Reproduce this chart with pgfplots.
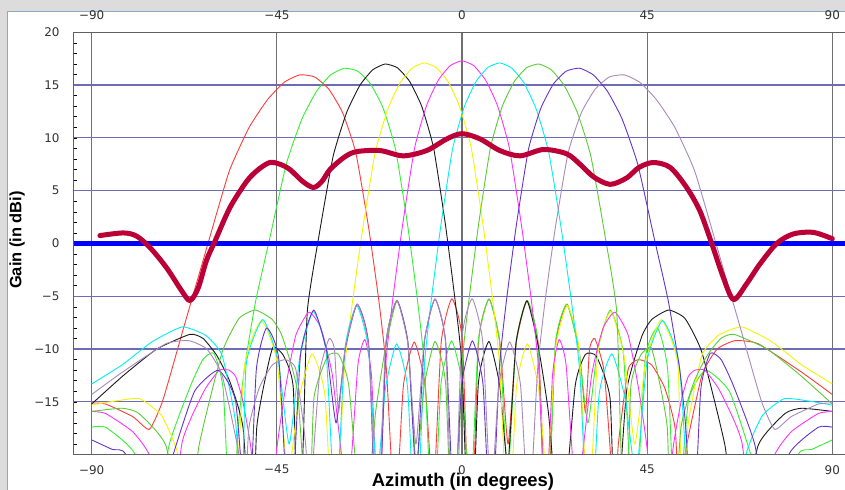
\documentclass[border=0pt]{standalone}
\usepackage{pgfplots}
\pgfplotsset{compat=1.18}
\usepackage{fontspec}
\setmainfont{DejaVu Sans}
\newfontfamily\labelfont{Liberation Sans}
\definecolor{cRed}{HTML}{FF3B3B}
\definecolor{cLime}{HTML}{33F033}
\definecolor{cBlack}{HTML}{1A1A1A}
\definecolor{cYellow}{HTML}{F5F500}
\definecolor{cMag}{HTML}{FF33FF}
\definecolor{cCyan}{HTML}{00F0F0}
\definecolor{cGreen}{HTML}{5CCC33}
\definecolor{cViolet}{HTML}{6633CC}
\definecolor{cMauve}{HTML}{AA88BB}
\definecolor{cCrimson}{HTML}{BB0038}
\definecolor{cBlue}{HTML}{0000FF}
\definecolor{gridx}{HTML}{707070}
\definecolor{gridy}{HTML}{6C6CB4}
\definecolor{winGray}{HTML}{DCDCDC}
\definecolor{frameCol}{HTML}{8FA8C0}
\definecolor{axisCol}{HTML}{606060}
\pgfplotsset{beam/.style={line width=0.9bp, line join=round, smooth, tension=0.3}}
\begin{document}
\begin{tikzpicture}[x=1bp,y=1bp]
\useasboundingbox (0,0) rectangle (845,490);
\fill[winGray] (0,0) rectangle (845,490);
\fill[white] (7.5,0) rectangle (845,478.5);
\draw[frameCol, line width=1bp] (7.5,0) -- (7.5,478.5) -- (845,478.5);
\begin{axis}[
  at={(73.3bp,35.3bp)}, anchor=south west,
  scale only axis, width=771.7bp, height=422.4bp,
  xmin=-94.47, xmax=93.09, ymin=-20, ymax=20,
  axis line style={draw=none},
  xtick={-90,-45,0,45,90},
  xticklabels={−90,−45,0,45,90},
  ytick={-15,-10,-5,0,5,10,15,20},
  yticklabels={−15,−10,−5,0,5,10,15,20},
  minor ytick={-19,...,19},
  xtick style={draw=none},
  ytick pos=left,
  ytick style={black, line width=0.6bp},
  major tick length=3.5bp, minor tick length=3.5bp,
  tick label style={font=\fontsize{12}{14}\selectfont, text=black!80},
  xticklabel style={yshift=-7bp},
  yticklabel style={xshift=-10.3bp},
  clip=true,
]
\pgfplotsinvokeforeach{-90,-45,0,45,90}{\draw[gridx, line width=1.2bp] (axis cs:#1,-20) -- (axis cs:#1,20);}
\pgfplotsinvokeforeach{-15,-10,-5,5,10,15}{\draw[gridy, line width=1.2bp] (axis cs:-94.47,#1) -- (axis cs:93.09,#1);}

% beam 1 red
\addplot[cRed, beam] coordinates {
(-90,-15.1)(-86.6,-15.2)(-80,-16.4)(-76,-17.6)(-72.75,-14.9)(-67.67,-8.0)(-62.25,-0.7)(-56.61,6.8)(-51.72,11.0)(-47.31,13.6)(-43.23,15.26)(-39.42,15.97)(-35.8,15.77)(-32.34,14.6)(-29.01,12.38)(-25.78,8.55)(-22.64,1.38)(-20.18,-5.5)(-18.36,-12.0)(-16.26,-26)(-14.24,-13.47)(-11.6,-9.32)(-8.97,-13.38)(-7.0,-24)(-5.05,-9.34)(-2.46,-5.23)(0.11,-9.32)(2.06,-30)(4.01,-9.34)(6.6,-5.25)(9.21,-9.38)(11.19,-19)(13.18,-9.44)(15.84,-5.4)(18.54,-9.58)(20.61,-27)(22.7,-9.73)(25.53,-5.74)(28.42,-9.99)(30.0,-16)(31.0,-10)(32.3,-9.0)(34.5,-12)(36,-19.4)(37,-26)(38,-19)(40.4,-11.9)(42.9,-11.0)(46.1,-11.5)(49.3,-13.7)(51.8,-17.5)(53,-26)(54.2,-20)(58.3,-12.5)(62,-10)(66.4,-9.2)(72,-9.5)(82.6,-12.2)(90,-14.3)
};
% beam 2 lime
\addplot[cLime, beam] coordinates {
(-90,-17.4)(-86.6,-17.4)(-79.4,-20)(-75,-28)(-71.2,-19.1)(-66,-13.5)(-63,-11)(-60.3,-10.4)(-58,-14)(-56,-30)(-54.5,-18)(-52.94,-12)(-50.17,-5.5)(-46.72,0.5)(-42.69,7.54)(-38.9,11.8)(-35.31,14.44)(-31.87,15.98)(-28.55,16.6)(-25.34,16.32)(-22.21,15.1)(-19.15,12.8)(-16.14,8.89)(-13.18,1.65)(-10.84,-5.3)(-9.09,-11.8)(-7.07,-28)(-5.11,-13.34)(-2.52,-9.22)(0.06,-13.32)(2.0,-25)(3.96,-9.34)(6.55,-5.25)(9.15,-9.38)(11.13,-22)(13.12,-9.44)(15.78,-5.4)(18.48,-9.57)(20.55,-30)(22.64,-9.72)(25.47,-5.74)(28.36,-9.99)(30.6,-17)(32.89,-10.22)(36.02,-6.3)(39.27,-10.62)(41.83,-28)(44.51,-11.0)(47.5,-8.0)(50,-12)(52,-28)(55,-15)(59.2,-12)(65,-14)(70.2,-20)(76,-28)(81.7,-20)(85,-19.5)(90,-18.6)
};
% beam 3 black
\addplot[cBlack, beam] coordinates {
(-90,-15.2)(-82.3,-12.5)(-74.2,-10.0)(-66.1,-8.6)(-62.9,-9.0)(-59.6,-10.6)(-56.4,-13.1)(-53.2,-17.5)(-51.0,-30)(-49.9,-17.5)(-47.5,-12.2)(-45.9,-9.8)(-43.4,-10.6)(-41.0,-13.7)(-39.8,-30)(-38.6,-19)(-37.59,-6.4)(-34.75,0.76)(-31.33,8.24)(-28.04,12.4)(-24.83,14.97)(-21.72,16.44)(-18.66,17.0)(-15.66,16.63)(-12.71,15.34)(-9.79,12.99)(-6.89,9.03)(-4.01,1.74)(-1.72,-5.25)(0,-11.74)(2.0,-32)(3.96,-13.36)(6.55,-9.27)(9.15,-13.4)(11.13,-21)(13.12,-9.46)(15.78,-5.42)(18.48,-9.6)(21,-16)(24,-28)(27.5,-13.5)(30,-10.5)(32.7,-10.7)(36,-14.7)(37.3,-28)(40,-14)(43.7,-8.8)(46.1,-7.2)(50.2,-6.3)(54.2,-7.1)(58.3,-10.3)(63.9,-19.1)(67,-28)(72,-19.1)(78.5,-16.1)(82.6,-15.6)(90,-15.9)
};
% beam 4 yellow
\addplot[cYellow, beam] coordinates {
(-90,-15.3)(-84,-14.9)(-78.3,-14.7)(-73,-16.3)(-69,-20)(-64,-30)(-60,-22)(-56.2,-30)(-52.84,-11.6)(-48.76,-7.3)(-44.99,-11.1)(-42.3,-22)(-39.72,-14.8)(-36.45,-10.45)(-33.3,-14.4)(-31.0,-30)(-28.69,-12.5)(-26.74,-5.9)(-24.2,1.2)(-21.1,8.6)(-18.06,12.7)(-15.07,15.2)(-12.12,16.6)(-9.21,17.1)(-6.32,16.68)(-3.44,15.35)(-0.57,12.96)(2.29,8.95)(5.16,1.64)(7.47,-5.38)(9.21,-11.9)(11.25,-28)(13.24,-13.6)(15.9,-9.5)(18.6,-13.7)(20.67,-22)(22.77,-9.85)(25.6,-5.87)(28.49,-10.1)(30.73,-26)(33.02,-10.35)(36.16,-6.43)(39.42,-10.75)(42.0,-19)(44.67,-11.1)(48.42,-7.2)(52.47,-11.5)(53.5,-26)(55,-17)(58.3,-10.6)(62.3,-8.7)(68,-7.9)(75.3,-9.3)(82.6,-11.5)(90,-13.3)
};
% beam 5 magenta
\addplot[cMag, beam] coordinates {
(-90,-15.9)(-86.6,-16.1)(-80.1,-17.8)(-76,-20)(-71,-26)(-68,-18.8)(-65.6,-16.3)(-62.3,-13.7)(-59,-12.0)(-56.6,-12.0)(-55,-12.6)(-53.4,-14.7)(-51.4,-19.1)(-48,-30)(-44.9,-19.1)(-42.9,-13.7)(-40.4,-8.7)(-37.2,-6.5)(-34.3,-8.0)(-31.5,-12.5)(-27.8,-24)(-25.3,-11.5)(-23.6,-9.1)(-22.0,-12.5)(-20.3,-26)(-18.66,-12.0)(-16.86,-5.4)(-14.48,1.65)(-11.54,9.0)(-8.63,13.05)(-5.74,15.47)(-2.87,16.84)(0,17.3)(2.87,16.84)(5.74,15.47)(8.63,13.05)(11.54,9.0)(14.48,1.65)(16.86,-5.4)(18.66,-12.0)(20.3,-26)(22.0,-12.5)(23.6,-9.1)(25.3,-11.5)(27.8,-24)(31.5,-12.5)(34.3,-8.0)(37.2,-6.5)(40.4,-8.7)(42.9,-13.7)(44.9,-19.1)(48,-30)(51.4,-19.1)(53.4,-14.7)(55,-12.6)(56.6,-12.0)(59,-12.0)(62.3,-13.7)(65.6,-16.3)(68,-18.8)(71,-26)(76,-20)(80.1,-17.8)(86.6,-16.1)(90,-15.9)
};
% beam 6 cyan
\addplot[cCyan, beam] coordinates {
(90,-15.3)(84,-14.9)(78.3,-14.7)(73,-16.3)(69,-20)(64,-30)(60,-22)(56.2,-30)(52.84,-11.6)(48.76,-7.3)(44.99,-11.1)(42.3,-22)(39.72,-14.8)(36.45,-10.45)(33.3,-14.4)(31.0,-30)(28.69,-12.5)(26.74,-5.9)(24.2,1.2)(21.1,8.6)(18.06,12.7)(15.07,15.2)(12.12,16.6)(9.21,17.1)(6.32,16.68)(3.44,15.35)(0.57,12.96)(-2.29,8.95)(-5.16,1.64)(-7.47,-5.38)(-9.21,-11.9)(-11.25,-28)(-13.24,-13.6)(-15.9,-9.5)(-18.6,-13.7)(-20.67,-22)(-22.77,-9.85)(-25.6,-5.87)(-28.49,-10.1)(-30.73,-26)(-33.02,-10.35)(-36.16,-6.43)(-39.42,-10.75)(-42.0,-19)(-44.67,-11.1)(-48.42,-7.2)(-52.47,-11.5)(-53.5,-26)(-55,-17)(-58.3,-10.6)(-62.3,-8.7)(-68,-7.9)(-75.3,-9.3)(-82.6,-11.5)(-90,-13.3)
};
% beam 7 green
\addplot[cGreen, beam] coordinates {
(90,-15.2)(82.3,-12.5)(74.2,-10.0)(66.1,-8.6)(62.9,-9.0)(59.6,-10.6)(56.4,-13.1)(53.2,-17.5)(51.0,-30)(49.9,-17.5)(47.5,-12.2)(45.9,-9.8)(43.4,-10.6)(41.0,-13.7)(39.8,-30)(38.6,-19)(37.59,-6.4)(34.75,0.76)(31.33,8.24)(28.04,12.4)(24.83,14.97)(21.72,16.44)(18.66,17.0)(15.66,16.63)(12.71,15.34)(9.79,12.99)(6.89,9.03)(4.01,1.74)(1.72,-5.25)(0,-11.74)(-2.0,-32)(-3.96,-13.36)(-6.55,-9.27)(-9.15,-13.4)(-11.13,-21)(-13.12,-9.46)(-15.78,-5.42)(-18.48,-9.6)(-21,-16)(-24,-28)(-27.5,-13.5)(-30,-10.5)(-32.7,-10.7)(-36,-14.7)(-37.3,-28)(-40,-14)(-43.7,-8.8)(-46.1,-7.2)(-50.2,-6.3)(-54.2,-7.1)(-58.3,-10.3)(-63.9,-19.1)(-67,-28)(-72,-19.1)(-78.5,-16.1)(-82.6,-15.6)(-90,-15.9)
};
% beam 8 violet
\addplot[cViolet, beam] coordinates {
(90,-17.4)(86.6,-17.4)(79.4,-20)(75,-28)(71.2,-19.1)(66,-13.5)(63,-11)(60.3,-10.4)(58,-14)(56,-30)(54.5,-18)(52.94,-12)(50.17,-5.5)(46.72,0.5)(42.69,7.54)(38.9,11.8)(35.31,14.44)(31.87,15.98)(28.55,16.6)(25.34,16.32)(22.21,15.1)(19.15,12.8)(16.14,8.89)(13.18,1.65)(10.84,-5.3)(9.09,-11.8)(7.07,-28)(5.11,-13.34)(2.52,-9.22)(-0.06,-13.32)(-2.0,-25)(-3.96,-9.34)(-6.55,-5.25)(-9.15,-9.38)(-11.13,-22)(-13.12,-9.44)(-15.78,-5.4)(-18.48,-9.57)(-20.55,-30)(-22.64,-9.72)(-25.47,-5.74)(-28.36,-9.99)(-30.6,-17)(-32.89,-10.22)(-36.02,-6.3)(-39.27,-10.62)(-41.83,-28)(-44.51,-11.0)(-47.5,-8.0)(-50,-12)(-52,-28)(-55,-15)(-59.2,-12)(-65,-14)(-70.2,-20)(-76,-28)(-81.7,-20)(-85,-19.5)(-90,-18.6)
};
% beam 9 mauve
\addplot[cMauve, beam] coordinates {
(90,-15.1)(86.6,-15.2)(80,-16.4)(76,-17.6)(72.75,-14.9)(67.67,-8.0)(62.25,-0.7)(56.61,6.8)(51.72,11.0)(47.31,13.6)(43.23,15.26)(39.42,15.97)(35.8,15.77)(32.34,14.6)(29.01,12.38)(25.78,8.55)(22.64,1.38)(20.18,-5.5)(18.36,-12.0)(16.26,-26)(14.24,-13.47)(11.6,-9.32)(8.97,-13.38)(7.0,-24)(5.05,-9.34)(2.46,-5.23)(-0.11,-9.32)(-2.06,-30)(-4.01,-9.34)(-6.6,-5.25)(-9.21,-9.38)(-11.19,-19)(-13.18,-9.44)(-15.84,-5.4)(-18.54,-9.58)(-20.61,-27)(-22.7,-9.73)(-25.53,-5.74)(-28.42,-9.99)(-30.0,-16)(-31.0,-10)(-32.3,-9.0)(-34.5,-12)(-36,-19.4)(-37,-26)(-38,-19)(-40.4,-11.9)(-42.9,-11.0)(-46.1,-11.5)(-49.3,-13.7)(-51.8,-17.5)(-53,-26)(-54.2,-20)(-58.3,-12.5)(-62,-10)(-66.4,-9.2)(-72,-9.5)(-82.6,-12.2)(-90,-14.3)
};
% 0 dBi reference
\addplot[cBlue, line width=5bp] coordinates {(-94.47,0) (93.09,0)};
% composite
\addplot[cCrimson, line width=5bp, line cap=round, line join=round, smooth] coordinates {
(-88,0.75)(-82.3,1.0)(-79.1,0.7)(-75.8,-0.4)(-71.8,-2.3)(-68.1,-4.5)(-66.1,-5.4)(-64.1,-4.2)(-62.1,-1.6)(-60,0.25)(-56.4,3.4)(-52.3,5.9)(-49.5,7.0)(-46.7,7.67)(-44.2,7.5)(-41.8,7.0)(-38.8,5.9)(-36.1,5.3)(-34,5.9)(-32.1,7.0)(-28.5,8.2)(-25.6,8.7)(-19.9,8.8)(-14.3,8.3)(-8.6,8.8)(-3.7,9.9)(0,10.4)(4.4,9.9)(9.2,8.8)(14.1,8.3)(19.8,8.9)(25.4,8.5)(28.7,7.5)(32,6.3)(36.0,5.6)(40.0,6.2)(43,7.2)(46.5,7.67)(50.6,7.2)(54.6,5.3)(57.8,3.1)(60.7,0)(63.5,-3.2)(66.0,-5.3)(69.2,-3.8)(72.4,-1.95)(76.5,0)(80.5,0.9)(85.4,1.05)(90,0.45)
};
\end{axis}
\draw[axisCol, line width=1.3bp] (73.3,457.7) -- (845,457.7);
\draw[axisCol, line width=1.3bp] (73.3,457.7) -- (73.3,35.3) -- (845,35.3);
\begin{scope}[every node/.style={font=\fontsize{12}{14}\selectfont, text=black!80, anchor=base, inner sep=0pt}]
\node at (91.7,470.1) {−90};
\node at (276.9,470.1) {−45};
\node at (462,470.1) {0};
\node at (647.1,470.1) {45};
\node at (832.3,470.1) {90};
\end{scope}
\node[rotate=90, font=\labelfont\bfseries\fontsize{16.5}{18}\selectfont, inner sep=0pt] at (17,250) {Gain (in dBi)};
\node[anchor=base, font=\labelfont\bfseries\fontsize{18.5}{20}\selectfont, inner sep=0pt] at (463,3.5) {Azimuth (in degrees)};
\end{tikzpicture}
\end{document}
